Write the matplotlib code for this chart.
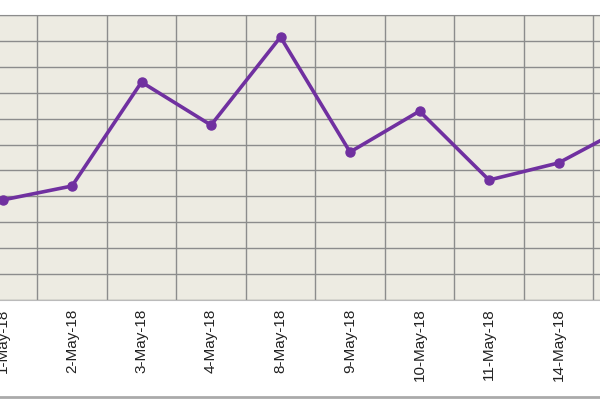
import numpy as np
import matplotlib.pyplot as plt
from matplotlib.lines import Line2D

dates = ['1-May-18', '2-May-18', '3-May-18', '4-May-18', '8-May-18',
         '9-May-18', '10-May-18', '11-May-18', '14-May-18', '15-May-18']
values = [3.86, 4.40, 8.41, 6.75, 10.15, 5.71, 7.29, 4.63, 5.29, 6.72]

fig = plt.figure(figsize=(6, 4), dpi=100)
ax = fig.add_axes([0, 0.25, 1, 0.7125])
ax.set_facecolor('#EDEBE2')

x = np.arange(len(dates))
ax.plot(x, values, color='#7030A0', linewidth=2.6, marker='o', markersize=6.5, zorder=3)

# only the labels that fall inside the figure
ax.set_xticks(x[:-1])
ax.set_xticklabels(dates[:-1], rotation=90, fontsize=11, color='#222222',
                   family='Liberation Sans')
ax.set_xticks(x[:-1] + 0.5, minor=True)
ax.tick_params(axis='x', which='both', length=0, pad=6)
ax.set_yticks(np.arange(0, 12))
ax.tick_params(axis='y', length=0, labelleft=False)
ax.set_xlim(-0.036, 8.597)
ax.set_ylim(0, 11)
ax.grid(True, which='minor', axis='x', color='#8C8C8C', linewidth=1)
ax.grid(True, which='major', axis='y', color='#8C8C8C', linewidth=1)
ax.grid(False, which='major', axis='x')
ax.set_axisbelow(True)
for side in ['left', 'right']:
    ax.spines[side].set_visible(False)
ax.spines['top'].set_color('#8C8C8C')
ax.spines['bottom'].set_color('#BBBBBB')

fig.add_artist(Line2D([0, 1], [0.008, 0.008], color='#AAAAAA', linewidth=2))

fig.savefig('out.png', dpi=100)
